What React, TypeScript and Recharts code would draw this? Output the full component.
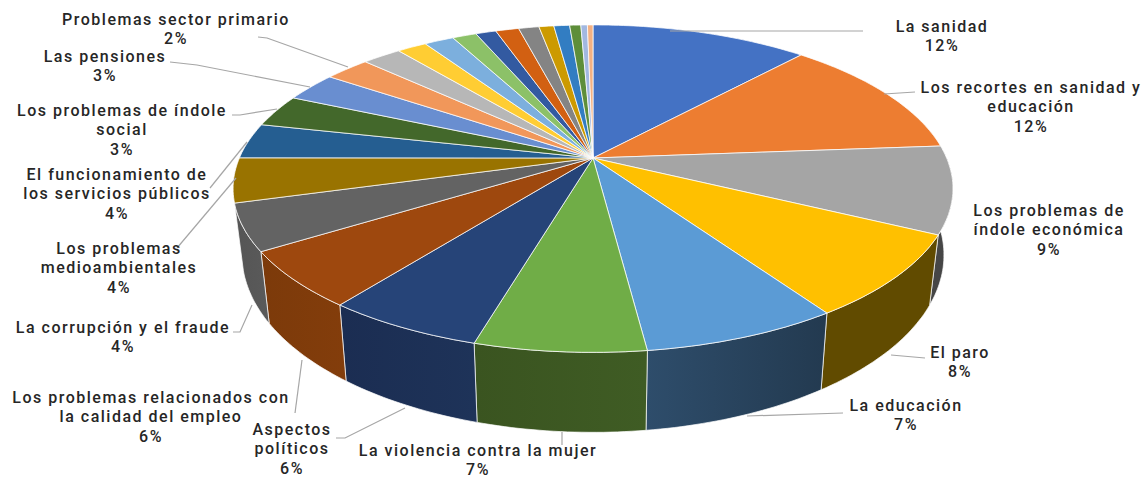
import { Pie, PieChart } from 'recharts';

// Share of each slice (clockwise from 12 o'clock).
const shares = [
  11.7, 12.1, 8.6, 8.2, 7.45, 6.45, 6.0, 5.6, 4.6, 4.4, 3.5, 3.2, 2.9, 2.45, 2.1, 1.6, 1.6, 1.3, 1.1, 1.25, 1.1, 0.8,
  0.85, 0.6, 0.35, 0.3,
];

const labels = [
  ['La sanidad', '12%'],
  ['Los recortes en sanidad y', 'educación', '12%'],
  ['Los problemas de', 'índole económica', '9%'],
  ['El paro', '8%'],
  ['La educación', '7%'],
  ['La violencia contra la mujer', '7%'],
  ['Aspectos', 'políticos', '6%'],
  ['Los problemas relacionados con', 'la calidad del empleo', '6%'],
  ['La corrupción y el fraude', '4%'],
  ['Los problemas', 'medioambientales', '4%'],
  ['El funcionamiento de', 'los servicios públicos', '4%'],
  ['Los problemas de índole', 'social', '3%'],
  ['Las pensiones', '3%'],
  ['Problemas sector primario', '2%'],
];

const colors = [
  '#4472C4', '#ED7D31', '#A5A5A5', '#FFC000', '#5B9BD5', '#70AD47', '#264478', '#9E480E', '#636363', '#997300',
  '#255E91', '#43682B', '#698ED0', '#F1975A', '#B7B7B7', '#FFCD33', '#7CAFDD', '#8CC168', '#335AA1', '#D26012',
  '#848484', '#CC9A00', '#327DC2', '#5E8E3A', '#A2B8E1', '#F4B183',
];

// Side wall colours, left edge then right edge; slices without one face away from the viewer.
const wallColors = [
  null,
  null,
  ['#464646', '#464646'],
  ['#614B00', '#614B00'],
  ['#2E4D6B', '#233A50'],
  ['#3A5420', '#3F5C24'],
  ['#1B2D52', '#1E3359'],
  ['#7C3A0A', '#833D0B'],
  ['#555555', '#5A5A5A'],
];

// Where each label block sits: centre x, first line y, leader polyline.
const labelSpots = [
  { x: 942, y: 27, leader: '670,31 863,31' },
  { x: 1031, y: 88, leader: '884,94 915,92' },
  { x: 1049, y: 211, leader: '' },
  { x: 960, y: 353, leader: '891,355 925,358' },
  { x: 906, y: 406, leader: '747,416 843,413' },
  { x: 478, y: 451, leader: '562,432 562,445' },
  { x: 292, y: 430, leader: '405,408 345,438 336,438' },
  { x: 151, y: 398, leader: '302,360 295,413' },
  { x: 123, y: 328, leader: '252,305 240,332 233,332' },
  { x: 119, y: 249, leader: '236,178 177,248' },
  { x: 117, y: 175, leader: '247,142 210,188' },
  { x: 122, y: 111, leader: '277,109 240,115 232,115' },
  { x: 105, y: 57, leader: '310,87 197,65 170,62' },
  { x: 176, y: 20, leader: '348,67 267,38 258,37' },
];

const rows = shares.map((value, i) => ({ name: labels[i]?.[0] ?? `Otros ${i}`, value, fill: colors[i] }));

const TILT = 0.187;
const TOP_SQUASH = 158 / 353.6;
const BASE_SCALE = 0.975;
const BASE_DROP = 64;
const BASE_SQUASH = 171 / 353.6;

// Perspective view of a rim point; the base disc is a bit smaller and lower than the top.
function rimPoint(cx: number, cy: number, r: number, angle: number, base: boolean) {
  const a = (angle * Math.PI) / 180;
  const u = Math.cos(a);
  const v = -Math.sin(a);
  const w = 1 - TILT * v;
  if (base) return [cx + (BASE_SCALE * r * u) / w, cy + BASE_DROP + (BASE_SQUASH * r * v) / w];
  return [cx + (r * u) / w, cy + (TOP_SQUASH * r * v) / w];
}

function rimPoints(p: any, base: boolean) {
  const pts: number[][] = [];
  const steps = Math.max(2, Math.ceil(Math.abs(p.endAngle - p.startAngle)));
  for (let i = 0; i <= steps; i++) {
    const angle = p.startAngle + ((p.endAngle - p.startAngle) * i) / steps;
    pts.push(rimPoint(p.cx, p.cy, p.outerRadius, angle, base));
  }
  return pts;
}

const toPath = (pts: number[][]) => pts.map((q, i) => `${i ? 'L' : 'M'}${q[0].toFixed(1)},${q[1].toFixed(1)}`).join('') + 'Z';

function TopSlice(p: any) {
  const d = toPath([[p.cx, p.cy], ...rimPoints(p, false)]);
  return <path d={d} fill={p.fill} stroke="#ffffff" strokeOpacity={0.75} strokeWidth={1} strokeLinejoin="round" />;
}

function WallSlice(p: any) {
  const shades = wallColors[p.index];
  if (!shades) return <g />;
  const d = toPath([...rimPoints(p, false), ...rimPoints(p, true).reverse()]);
  const id = `wall-${p.index}`;
  return (
    <g>
      <defs>
        <linearGradient id={id} x1="0" y1="0" x2="1" y2="0">
          <stop offset="0%" stopColor={shades[0]} />
          <stop offset="100%" stopColor={shades[1]} />
        </linearGradient>
      </defs>
      <path d={d} fill={`url(#${id})`} stroke="#ffffff" strokeOpacity={0.7} strokeWidth={1} strokeLinejoin="round" />
    </g>
  );
}

function SliceLabel(p: any) {
  const lines = labels[p.index];
  const spot = labelSpots[p.index];
  if (!lines || !spot) return <g />;
  return (
    <g>
      {spot.leader && <polyline points={spot.leader} fill="none" stroke="#a6a6a6" strokeWidth={1.2} />}
      {lines.map((line, i) => (
        <text
          key={line}
          x={spot.x}
          y={spot.y + i * 19.3}
          dy={5}
          textAnchor="middle"
          fontFamily="Roboto, sans-serif"
          fontWeight={500}
          fontSize={16}
          letterSpacing={1.5}
          fill="#262626"
        >
          {line}
        </text>
      ))}
    </g>
  );
}

export default function App() {
  return (
    <div style={{ position: 'absolute', left: 0, top: 0, width: 1148, height: 479, background: '#ffffff' }}>
      <PieChart width={1148} height={479} margin={{ top: 0, right: 0, bottom: 0, left: 0 }}>
        <Pie
          data={rows}
          dataKey="value"
          cx={593}
          cy={158}
          outerRadius={353.6}
          startAngle={90}
          endAngle={-270}
          shape={WallSlice}
          isAnimationActive={false}
        />
        <Pie
          data={rows}
          dataKey="value"
          cx={593}
          cy={158}
          outerRadius={353.6}
          startAngle={90}
          endAngle={-270}
          shape={TopSlice}
          label={SliceLabel}
          labelLine={false}
          isAnimationActive={false}
        />
      </PieChart>
    </div>
  );
}
